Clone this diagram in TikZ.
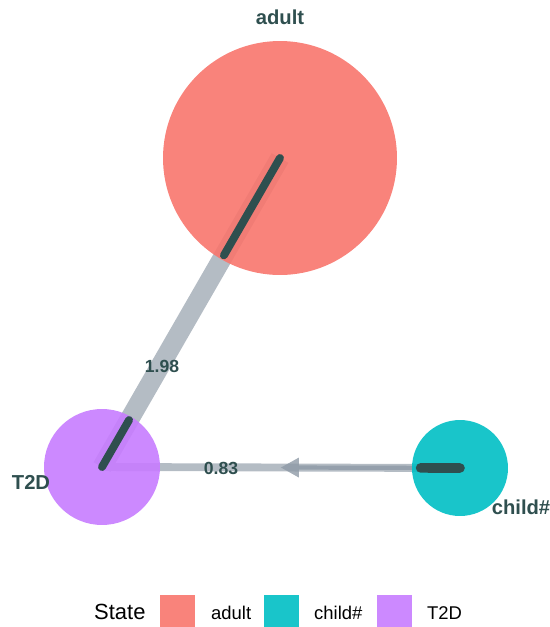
\documentclass[tikz,border=0pt]{standalone}
\usepackage{fontspec}
\setmainfont{Liberation Sans}
\usetikzlibrary{calc}

\definecolor{adultcol}{HTML}{F8766D}
\definecolor{childcol}{HTML}{00BFC4}
\definecolor{tdcol}{HTML}{C77CFF}
\definecolor{edgecol}{HTML}{B4BCC4}
\definecolor{arrowcol}{HTML}{8E9AA6}
\definecolor{loopcol}{HTML}{2F4F4F}

\begin{document}
\begin{tikzpicture}[
  x = 0.02cm, y = -0.02cm,
  state/.style     = {circle, inner sep = 0pt, fill opacity = 0.9, draw = none},
  statename/.style = {font = \bfseries\fontsize{11.5}{13}\selectfont, text = loopcol},
  weight/.style    = {font = \bfseries\fontsize{10}{12}\selectfont, text = loopcol},
  flow/.style      = {draw = edgecol, line width = #1},
  share/.style     = {draw = loopcol, line width = #1, line cap = round},
  keybox/.style    = {rectangle, inner sep = 0pt, minimum width = 0.7cm, minimum height = 0.7cm, anchor = north west},
  keytext/.style   = {font = \fontsize{10.5}{12}\selectfont, anchor = west}
]
  \useasboundingbox (0,0) rectangle (550,627);

  % centres of the states
  \coordinate (ca) at (280, 158);
  \coordinate (cc) at (460, 468);
  \coordinate (ct) at (102, 467);

  % transitions, under the states
  \draw[flow = 11pt] (ca) -- (ct);
  \draw[flow = 4.5pt] (cc) -- (ct);
  \coordinate (tip) at ($(cc)!0.5!(ct)$);
  \coordinate (base) at ($(cc)!0.45!(ct)$);
  \draw[draw = arrowcol, draw opacity = 0.8, line width = 2.4pt] (cc) -- (base);
  \fill[arrowcol, opacity = 0.8] (tip) -- ($(base)+(0,-10)$) -- ($(base)+(0,10)$) -- cycle;

  % states
  \node[state, fill = adultcol, minimum size = 4.68cm] (adult) at (ca) {};
  \node[state, fill = childcol, minimum size = 1.92cm] (child) at (cc) {};
  \node[state, fill = tdcol,    minimum size = 2.32cm] (t2d)   at (ct) {};

  % share of each transition inside the state
  \draw[share = 4.5pt] (adult.center) -- ($(adult.center)!0.315!(t2d.center)$);
  \draw[share = 4.5pt] (t2d.center)   -- ($(t2d.center)!0.152!(adult.center)$);
  \draw[share = 5.5pt] (child.center) -- ($(child.center)!0.11!(t2d.center)$);

  \node[weight] (w1) at (162, 366) {1.98};
  \node[weight] (w2) at (221, 468) {0.83};

  \node[statename] (ladult) at (280, 17)  {adult};
  \node[statename] (lchild) at (521, 507) {child\#};
  \node[statename] (lt2d)   at (31, 482)  {T2D};

  % legend
  \node[font = \fontsize{12.5}{14}\selectfont, anchor = west] (title) at (88, 612) {State};
  \node[keybox, fill = adultcol, fill opacity = 0.9] (kadult) at (160, 595) {};
  \node[keytext] (tadult) at (205, 613) {adult};
  \node[keybox, fill = childcol, fill opacity = 0.9] (kchild) at (264, 595) {};
  \node[keytext] (tchild) at (308, 613) {child\#};
  \node[keybox, fill = tdcol, fill opacity = 0.9]    (kt2d)   at (377, 595) {};
  \node[keytext] (tt2d)   at (421, 613) {T2D};
\end{tikzpicture}
\end{document}
